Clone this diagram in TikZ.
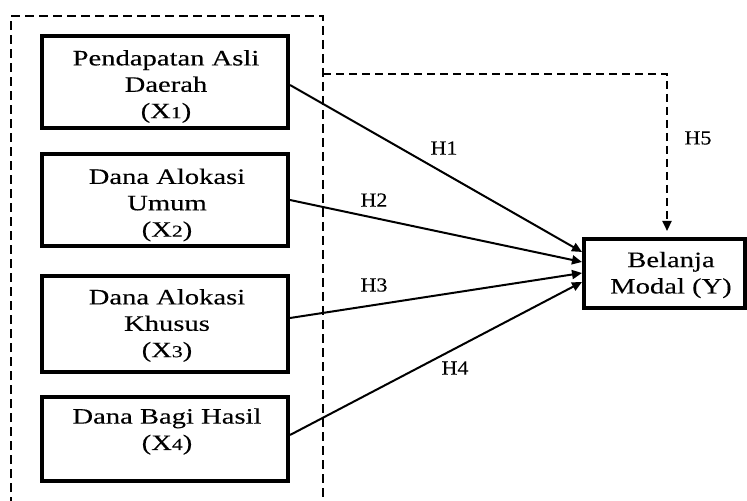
\documentclass[tikz,border=0pt]{standalone}
\usepackage{fontspec}
\setmainfont{Liberation Serif}[FakeStretch=1.3,FakeBold=0.2]
\newfontfamily\hypfont{Liberation Serif}[FakeStretch=1.1,FakeBold=0.15]
\usetikzlibrary{arrows.meta,calc}
\newcommand{\smdig}[1]{\scalebox{0.76}{#1}}
\begin{document}
\begin{tikzpicture}[x=0.5pt,y=-0.5pt,
  box/.style={draw,line width=2pt,inner sep=0pt,outer sep=1pt},
  txt/.style={align=center,font=\fontsize{11}{13.2}\selectfont,inner sep=0pt},
  hyp/.style={font=\hypfont\fontsize{10}{12}\selectfont,inner sep=0pt},
  conn/.style={line width=1pt,-{Triangle[length=5pt,width=4.5pt]}},
  grp/.style={line width=1.4pt,dash pattern=on 4.5pt off 2.5pt},
  grpconn/.style={line width=1pt,dash pattern=on 4pt off 2.5pt,-{Triangle[length=5pt,width=4.5pt]}}]
\useasboundingbox (0,0) rectangle (747,501);
\begin{scope}
  \clip (0,0) rectangle (747,501);
  \draw[grp] (11,520) -- (11,16) -- (323,16) -- (323,520);
\end{scope}
\coordinate (g) at (323,74);

\node[box,minimum width=123pt,minimum height=46pt] (b1) at (165,82) {};
\node[box,minimum width=123pt,minimum height=46pt] (b2) at (165,200) {};
\node[box,minimum width=123pt,minimum height=48pt] (b3) at (165,324) {};
\node[box,minimum width=123pt,minimum height=42pt] (b4) at (165,439) {};
\node[box,minimum width=80.5pt,minimum height=34.5pt] (by) at (664.5,273.5) {};

\node[txt] (t1) at (166,86.5) {Pendapatan Asli\\Daerah\\(X\smdig{1})};
\node[txt] (t2) at (167,205) {Dana Alokasi\\Umum\\(X\smdig{2})};
\node[txt] (t3) at (167,325.5) {Dana Alokasi\\Khusus\\(X\smdig{3})};
\node[txt] (t4) at (167,431.5) {Dana Bagi Hasil\\(X\smdig{4})};
\node[txt] (ty) at (671,275) {Belanja\\Modal (Y)};

\draw[conn] ($(b1.east)+(0,3)$) -- ($(by.west)+(0,-21.5)$);
\draw[conn] (b2.east) -- ($(by.west)+(0,-11.5)$);
\draw[conn] ($(b3.east)+(0,-6)$) -- ($(by.west)+(0,-0.5)$);
\draw[conn] ($(b4.east)+(0,-4)$) -- ($(by.west)+(0,8.5)$);
\draw[grpconn] (g) -| ($(by.north)+(2.5,-6)$);

\node[hyp] (h1) at (444,148) {H1};
\node[hyp] (h2) at (374,200) {H2};
\node[hyp] (h3) at (374,285) {H3};
\node[hyp] (h4) at (455,368) {H4};
\node[hyp] (h5) at (698,138) {H5};
\end{tikzpicture}
\end{document}
